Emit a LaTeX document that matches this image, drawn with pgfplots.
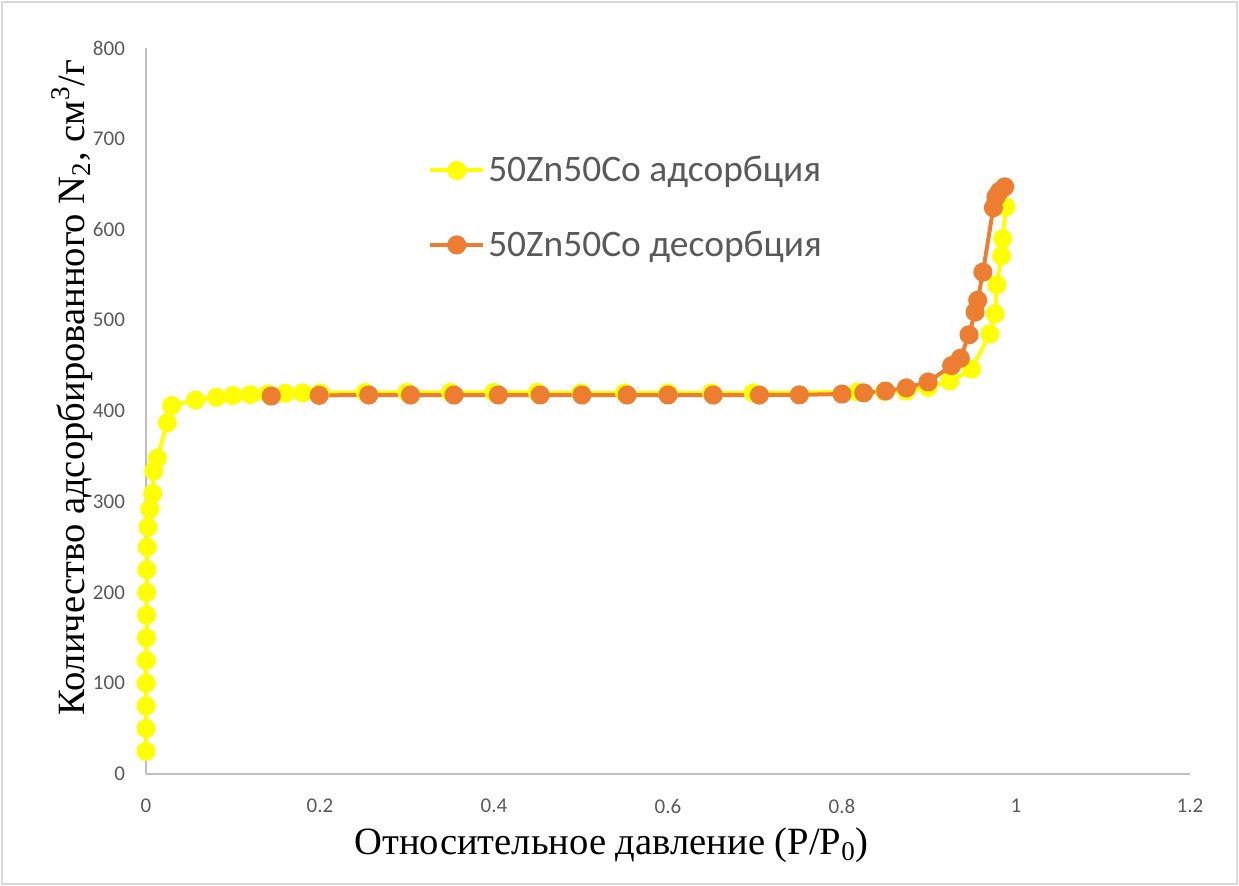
\documentclass[border=0pt]{standalone}
\usepackage{pgfplots}
\pgfplotsset{compat=1.18}
\usepackage{fontspec}
\setmainfont{Liberation Serif}
\newfontfamily\calibri{Carlito}
\definecolor{adsY}{HTML}{FFFF00}
\definecolor{desO}{HTML}{ED7D31}
\definecolor{tickgray}{HTML}{595959}
\definecolor{axgray}{HTML}{BFBFBF}
\definecolor{framegray}{HTML}{D9D9D9}

\begin{document}
\begin{tikzpicture}
\begin{axis}[
    scale only axis,
    width=522pt, height=363pt,
    xmin=0, xmax=1.2,
    ymin=0, ymax=800,
    axis x line*=bottom,
    axis y line*=left,
    axis line style={axgray, line width=1pt},
    xtick={0,0.2,0.4,0.6,0.8,1,1.2},
    xticklabels={0,0.2,0.4,0.6,0.8,1,1.2},
    ytick={0,100,200,300,400,500,600,700,800},
    major tick length=0pt,
    /pgf/number format/assume math mode=true,
    tick label style={font=\calibri\fontsize{10.5}{12}\selectfont, text=tickgray},
    xticklabel style={yshift=-9pt},
    yticklabel style={xshift=-7pt},
    xlabel={Относительное давление (P/P\textsubscript{0})},
    ylabel={Количество адсорбированного N\textsubscript{2}, см\textsuperscript{3}/г},
    label style={font=\fontsize{19.3}{22}\selectfont},
    xlabel style={at={(axis description cs:0.446,-0.098)}, anchor=center},
    ylabel style={at={(axis description cs:-0.071,0.532)}, anchor=center},
    legend style={at={(axis cs:0.324,624)}, anchor=west, draw=none, fill=none,
        font=\calibri\fontsize{18.7}{22}\selectfont, text=tickgray,
        row sep=20pt, inner sep=0pt, nodes={inner sep=1.5pt}},
    legend cell align=left,
    legend image code/.code={\draw[mark repeat=2, mark phase=2, #1]
        plot coordinates {(0pt,0pt) (13.25pt,0pt) (26.5pt,0pt)};},
    clip=false,
]
% адсорбция
\addplot[adsY, line width=2pt, mark=*, mark size=3.75pt,
    mark options={solid, fill=adsY, draw=adsY}] coordinates {
    (0.00002,25) (0.00005,50) (0.0001,75) (0.0002,100) (0.0003,125)
    (0.0005,150) (0.0007,175) (0.0008,200) (0.0010,225) (0.0015,250)
    (0.0023,272) (0.0045,292) (0.0077,309) (0.0090,334) (0.0130,348)
    (0.0245,387) (0.0295,406) (0.057,412) (0.081,415) (0.100,417)
    (0.120,418) (0.140,419) (0.160,419.5) (0.180,420) (0.200,420)
    (0.252,420.5) (0.300,420.5) (0.350,420.5) (0.400,420.5) (0.450,420.5)
    (0.500,420) (0.550,420) (0.600,420) (0.650,420) (0.698,420)
    (0.818,421) (0.849,421.5) (0.874,422) (0.899,426) (0.924,433)
    (0.949,446) (0.970,485) (0.976,507) (0.978,539) (0.9835,571)
    (0.9847,590) (0.9885,625)
};
\addlegendentry{50Zn50Co адсорбция}
% десорбция
\addplot[desO, line width=2pt, mark=*, mark size=3.75pt,
    mark options={solid, fill=desO, draw=desO}] coordinates {
    (0.987,647) (0.981,642) (0.977,636) (0.974,624) (0.962,553)
    (0.956,522) (0.953,509) (0.946,484) (0.936,458) (0.926,450)
    (0.899,432) (0.874,425.5) (0.850,422) (0.825,420) (0.800,418.7)
    (0.751,417.8) (0.705,417.6) (0.652,417.6) (0.600,417.6) (0.553,417.6)
    (0.501,417.6) (0.453,417.6) (0.405,417.6) (0.354,417.6) (0.304,417.6)
    (0.256,417.6) (0.199,417.2) (0.144,416.5)
};
\addlegendentry{50Zn50Co десорбция}
\end{axis}
\pgfresetboundingbox
\useasboundingbox (-73pt,-56pt) rectangle (546.5pt,387pt);
\draw[framegray, line width=1pt] (-72pt,-55pt) rectangle (545.5pt,386pt);
\end{tikzpicture}
\end{document}
